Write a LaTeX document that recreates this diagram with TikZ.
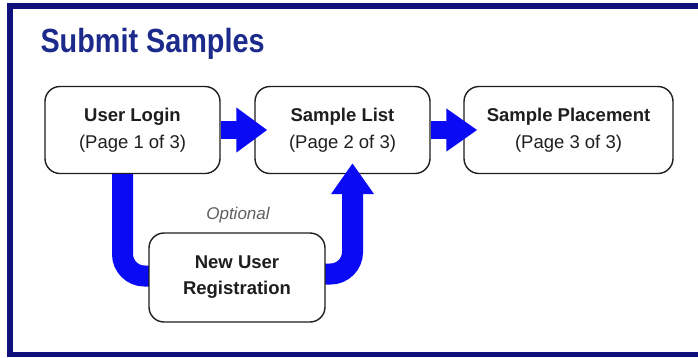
\documentclass[tikz,border=0pt]{standalone}
\usepackage{fontspec}
\setmainfont{Liberation Sans}
\newfontfamily\titlefont[FakeStretch=0.86]{Liberation Sans}
\usetikzlibrary{arrows.meta}

\definecolor{framenavy}{HTML}{10107A}
\definecolor{titleblue}{HTML}{1C2A8C}
\definecolor{flowblue}{HTML}{0A0AF5}
\definecolor{textdark}{HTML}{1E1E1E}

\tikzset{
	pagebox/.style={draw=textdark, line width=1.4pt, rounded corners=15pt, fill=white,
		align=center, text=textdark, font=\fontsize{18.5}{27}\selectfont,
		minimum height=87pt, inner sep=0pt},
	bigarrow/.style={draw=flowblue, line width=18pt, -{Triangle[length=31pt, width=43pt]}},
	uband/.style={draw=flowblue, line width=21pt, rounded corners=22pt}
}

\begin{document}
\begin{tikzpicture}[x=1pt, y=-1pt]
		\useasboundingbox (0, 0) rectangle (698, 357);
		\clip (0, 0) rectangle (698, 357);
		\fill[white] (0, 0) rectangle (698, 357);
		\draw[framenavy, line width=5.5pt] (10, 6) rectangle (710, 354.5);

		\node[anchor=base west, text=titleblue, font=\titlefont\bfseries\fontsize{33.5}{36}\selectfont]
			(title) at (37, 52) {Submit Samples};

		% the three pages
		\node[pagebox, minimum width=175pt] (login) at (132.5, 130)
			{\textbf{User Login}\\(Page 1 of 3)};
		\node[pagebox, minimum width=175pt] (list) at (342.5, 130)
			{\textbf{Sample List}\\(Page 2 of 3)};
		\node[pagebox, minimum width=209pt] (place) at (568.5, 130)
			{\textbf{Sample Placement}\\(Page 3 of 3)};

		% optional detour
		\draw[uband] ([xshift=-10pt]login.south) |- ([yshift=1.5pt]237, 277.5) coordinate (bandin);
		\draw[uband, -{Triangle[length=31pt, width=41pt]}]
			([yshift=3.5pt]237, 277.5) coordinate (bandout) -| ([xshift=10pt, yshift=11pt]list.south);
		\node[pagebox, minimum width=176pt, minimum height=89pt, font=\bfseries\fontsize{18.5}{26}\selectfont]
			(reg) at (237, 277.5) {New User\\Registration};
		\node[text=black!62, font=\itshape\fontsize{17}{20}\selectfont] (opt) at (238, 215) {Optional};

		\draw[bigarrow] (login.east) -- ([xshift=13pt]list.west);
		\draw[bigarrow, -{Triangle[length=31pt, width=41pt]}] (list.east) -- ([xshift=14pt]place.west);
	\end{tikzpicture}
\end{document}
